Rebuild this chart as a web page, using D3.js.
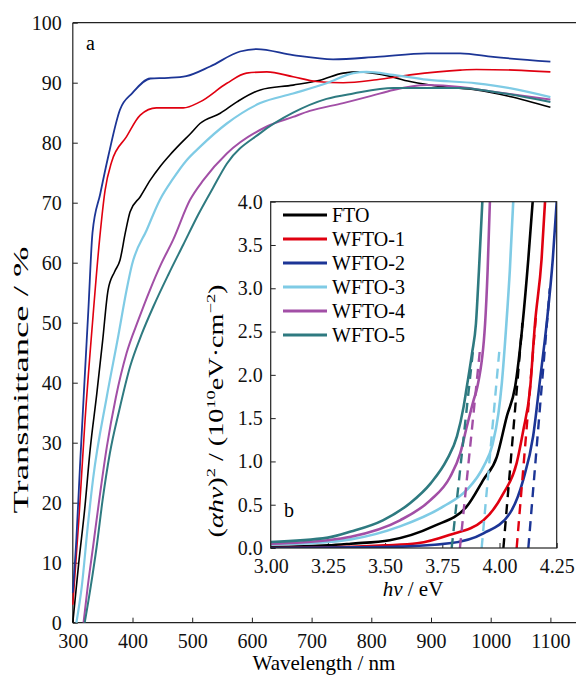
<!DOCTYPE html>
<html>
<head>
<meta charset="utf-8">
<script src="https://cdn.jsdelivr.net/npm/d3@7"></script>
<style>
body { margin: 0; background: #fff; }
svg, svg text { font-family: "Times New Roman", "Liberation Serif", Tinos, serif; }
</style>
</head>
<body>
<div id="chart"></div>
<script>
// series
const names = ["FTO", "WFTO-1", "WFTO-2", "WFTO-3", "WFTO-4", "WFTO-5"]
const colors = ["#000000", "#e00010", "#1c3596", "#7fcbe5", "#a24fa6", "#2e7a80"]

// panel a: [wavelength nm, transmittance %]
const transFTO = [[300,0],[310,10],[320,19],[329,28.8],[340,38],[350,47],[359,55.4],[370,58.5],[379,60.4],[388,65],[396,68.5],[413,71],[430,73.8],[446,76],[463,78],[480,79.8],[497,81.5],[513,83.2],[547,84.9],[575,86.8],[614,88.8],[669,89.6],[714,90.4],[753,91.6],[781,91.8],[820,91.3],[865,90.2],[921,89.3],[976,88.8],[1032,87.7],[1100,85.9]]
const transW1 = [[300,3],[310,17],[320,33],[333,50],[345,64],[354,72],[365,76.8],[390,81],[413,84.6],[440,85.8],[485,85.8],[513,86.8],[558,89.9],[591,91.6],[625,91.8],[669,91.0],[708,90.2],[753,90.0],[809,90.5],[865,91.3],[949,92.1],[976,92.2],[1040,92.1],[1100,91.8]]
const transW2 = [[300,5],[306,14],[312,26],[320,41],[326,52],[333,65],[346,71.5],[360,78],[379,85.5],[400,88.3],[430,90.7],[460,90.8],[490,91.1],[530,92.7],[580,95.2],[608,95.6],[669,94.6],[736,93.9],[809,94.3],[893,94.9],[949,94.9],[1004,94.3],[1100,93.5]]
const transW3 = [[306,0],[315,6],[325,16],[334,24],[357,37.7],[376,47.7],[390,55.4],[399,59.6],[424,65.5],[446,70.5],[468,74],[490,77],[513,79.3],[558,83.2],[614,86.6],[669,88.2],[725,89.9],[770,91.6],[792,91.8],[837,91.3],[893,90.5],[976,89.9],[1032,89.1],[1100,87.6]]
const transW4 = [[318,0],[325,6],[334,12.7],[345,21],[357,29.3],[372,37.5],[390,44.9],[410,50.5],[429,55.4],[448,59.8],[468,63.8],[496,70.4],[519,73.8],[558,78.2],[625,82.7],[669,84.3],[697,85.3],[753,86.6],[800,87.8],[837,88.8],[893,89.6],[949,89.3],[1004,88.5],[1100,87.2]]
const transW5 = [[320,0],[330,6],[340,12.7],[350,20.5],[362,28.2],[378,35.5],[396,42.7],[415,48],[435,52.7],[460,58],[485,63],[510,68],[535,72.5],[558,76.5],[614,81.6],[669,85],[725,87.3],[770,88.2],[837,89.1],[949,89.1],[1004,88.5],[1100,86.8]]
const transAll = [transFTO, transW1, transW2, transW3, transW4, transW5]
const wlTicks = [300, 400, 500, 600, 700, 800, 900, 1000, 1100]
const tTicks = [0, 10, 20, 30, 40, 50, 60, 70, 80, 90, 100]

// panel b: [hv eV, (ahv)^2 in 1e10]
const taucFTO = [[3.00,0.01],[3.25,0.03],[3.35,0.05],[3.52,0.09],[3.71,0.25],[3.857,0.48],[3.93,0.79],[3.988,1.05],[4.032,1.52],[4.068,1.86],[4.101,2.59],[4.126,3.34],[4.145,4.0]]
const taucW1 = [[3.00,0.0],[3.30,0.01],[3.50,0.03],[3.64,0.054],[3.78,0.15],[3.93,0.32],[4.017,0.63],[4.075,0.98],[4.104,1.36],[4.133,1.82],[4.155,2.59],[4.184,3.34],[4.199,4.0]]
const taucW2 = [[3.00,0.0],[3.50,0.01],[3.78,0.054],[3.93,0.17],[4.045,0.40],[4.104,0.79],[4.147,1.29],[4.177,1.94],[4.206,2.59],[4.233,3.34],[4.25,4.0]]
const taucW3 = [[3.00,0.04],[3.25,0.07],[3.35,0.10],[3.565,0.25],[3.755,0.48],[3.857,0.67],[3.93,0.94],[3.97,1.2],[3.995,1.55],[4.01,1.9],[4.03,2.59],[4.045,3.2],[4.06,4.0]]
const taucW4 = [[3.00,0.05],[3.25,0.09],[3.35,0.13],[3.565,0.32],[3.697,0.55],[3.784,0.82],[3.828,1.09],[3.857,1.40],[3.886,1.70],[3.903,1.86],[3.937,2.59],[3.948,3.2],[3.958,4.0]]
const taucW5 = [[3.00,0.07],[3.25,0.12],[3.35,0.19],[3.49,0.32],[3.61,0.52],[3.70,0.75],[3.77,1.02],[3.814,1.29],[3.843,1.63],[3.857,1.86],[3.88,2.25],[3.897,2.59],[3.91,3.2],[3.925,4.0]]
const taucAll = [taucFTO, taucW1, taucW2, taucW3, taucW4, taucW5]
// tangent (dashed) lines: x-intercept and upper end
const gapEg = [4.017, 4.075, 4.126, 3.922, 3.827, 3.791]
const gapTop = [[4.10,2.6],[4.16,2.7],[4.22,3.0],[4.0,2.3],[3.915,2.3],[3.885,2.3]]
const hvTicks = [3.00, 3.25, 3.50, 3.75, 4.00, 4.25]
const aTicks = [0, 0.5, 1, 1.5, 2, 2.5, 3, 3.5, 4]

// layout
const width = 576, height = 676
const fontFam = '"Times New Roman", "Liberation Serif", Tinos, serif'
const svg = d3.select("#chart").append("svg")
    .attr("width", width)
    .attr("height", height)
    .attr("font-family", fontFam)

// ---- panel a ----
const x = d3.scaleLinear().domain([300, 1100]).range([72.8, 550.4])
const y = d3.scaleLinear().domain([0, 100]).range([622.7, 22.7])

function style_axis(g, size){
    g.attr("font-family", fontFam).attr("font-size", size)
    g.select(".domain").remove()
    g.selectAll(".tick line").attr("stroke", "#222").attr("stroke-width", 1)
    g.selectAll(".tick text").attr("fill", "#111")
}

svg.append("g")
    .attr("transform", "translate(0," + y(0) + ")")
    .call(d3.axisBottom(x).tickValues(wlTicks).tickFormat(d3.format("d")).tickSizeInner(-5).tickSizeOuter(0).tickPadding(11))
    .call(g => style_axis(g, 20))
svg.append("g")
    .attr("transform", "translate(" + x(300) + ",0)")
    .call(d3.axisLeft(y).tickValues(tTicks).tickFormat(d3.format("d")).tickSizeInner(-5).tickSizeOuter(0).tickPadding(11))
    .call(g => style_axis(g, 20))

// frame (right side runs off the picture)
const frame = svg.append("g").attr("stroke", "#222").attr("stroke-width", 1.2)
frame.append("line").attr("x1", x(300)).attr("x2", x(300)).attr("y1", y(100)).attr("y2", y(0))
frame.append("line").attr("x1", x(300)).attr("x2", width).attr("y1", y(0)).attr("y2", y(0))
frame.append("line").attr("x1", x(300)).attr("x2", width).attr("y1", y(100)).attr("y2", y(100))

const lineA = d3.line().x(d => x(d[0])).y(d => y(d[1])).curve(d3.curveMonotoneX)
const mainWidths = [1.6, 1.6, 1.8, 2.2, 2, 2]
transAll.forEach((s, i) => {
    svg.append("path")
        .datum(s)
        .attr("fill", "none")
        .attr("stroke", colors[i])
        .attr("stroke-width", mainWidths[i])
        .attr("d", lineA)
})

svg.append("text").attr("x", 86).attr("y", 50).attr("font-size", 20).text("a")

svg.append("text")
    .attr("x", 324).attr("y", 670)
    .attr("text-anchor", "middle").attr("font-size", 21)
    .text("Wavelength / nm")
svg.append("text")
    .attr("transform", "translate(28,380) rotate(-90)")
    .attr("text-anchor", "middle").attr("font-size", 20)
    .attr("textLength", 267).attr("lengthAdjust", "spacingAndGlyphs")
    .text("Transmittance / %")

// ---- panel b (inset) ----
const xb = d3.scaleLinear().domain([3, 4.25]).range([270.7, 556.7])
const yb = d3.scaleLinear().domain([0, 4]).range([548, 201.7])

svg.append("rect")
    .attr("x", xb(3)).attr("y", yb(4))
    .attr("width", xb(4.25) - xb(3)).attr("height", yb(0) - yb(4))
    .attr("fill", "#fff")

const clip = svg.append("clipPath").attr("id", "clipb")
clip.append("rect")
    .attr("x", xb(3)).attr("y", yb(4))
    .attr("width", xb(4.25) - xb(3)).attr("height", yb(0) - yb(4))

svg.append("g")
    .attr("transform", "translate(0," + yb(0) + ")")
    .call(d3.axisBottom(xb).tickValues(hvTicks).tickFormat(d3.format(".2f")).tickSizeInner(-5).tickSizeOuter(0).tickPadding(11))
    .call(g => style_axis(g, 20))
svg.append("g")
    .attr("transform", "translate(" + xb(3) + ",0)")
    .call(d3.axisLeft(yb).tickValues(aTicks).tickFormat(d3.format(".1f")).tickSizeInner(-5).tickSizeOuter(0).tickPadding(8))
    .call(g => style_axis(g, 20))

const lineB = d3.line().x(d => xb(d[0])).y(d => yb(d[1])).curve(d3.curveMonotoneX)
const plotB = svg.append("g").attr("clip-path", "url(#clipb)")
taucAll.forEach((s, i) => {
    plotB.append("path")
        .datum(s)
        .attr("fill", "none")
        .attr("stroke", colors[i])
        .attr("stroke-width", 2.6)
        .attr("d", lineB)
})
gapEg.forEach((e, i) => {
    plotB.append("line")
        .attr("x1", xb(e)).attr("y1", yb(0))
        .attr("x2", xb(gapTop[i][0])).attr("y2", yb(gapTop[i][1]))
        .attr("stroke", colors[i])
        .attr("stroke-width", 2.4)
        .attr("stroke-dasharray", "10,7")
})

svg.append("rect")
    .attr("x", xb(3)).attr("y", yb(4))
    .attr("width", xb(4.25) - xb(3)).attr("height", yb(0) - yb(4))
    .attr("fill", "none").attr("stroke", "#222").attr("stroke-width", 1.2)

// legend
const legend = svg.append("g")
names.forEach((n, i) => {
    const ly = 215 + i * 24
    legend.append("line")
        .attr("x1", 283).attr("x2", 327).attr("y1", ly).attr("y2", ly)
        .attr("stroke", colors[i]).attr("stroke-width", 3)
    legend.append("text")
        .attr("x", 332).attr("y", ly + 7)
        .attr("font-size", 20)
        .text(n)
})

svg.append("text").attr("x", 284).attr("y", 517).attr("font-size", 20).text("b")

const xlabB = svg.append("text")
    .attr("x", 413).attr("y", 596)
    .attr("text-anchor", "middle").attr("font-size", 21)
xlabB.append("tspan").attr("font-style", "italic").text("hν")
xlabB.append("tspan").text(" / eV")

const ylabB = svg.append("text")
    .attr("transform", "translate(223,411) rotate(-90)")
    .attr("text-anchor", "middle").attr("font-size", 20)
    .attr("textLength", 253).attr("lengthAdjust", "spacingAndGlyphs")
ylabB.append("tspan").text("(")
ylabB.append("tspan").attr("font-style", "italic").text("αhν")
ylabB.append("tspan").text(")")
ylabB.append("tspan").attr("font-size", 13).attr("dy", -8).text("2")
ylabB.append("tspan").attr("dy", 8).text(" / (10")
ylabB.append("tspan").attr("font-size", 13).attr("dy", -8).text("10")
ylabB.append("tspan").attr("dy", 8).text("eV·cm")
ylabB.append("tspan").attr("font-size", 13).attr("dy", -8).text("−2")
ylabB.append("tspan").attr("dy", 8).text(")")
</script>
</body>
</html>
